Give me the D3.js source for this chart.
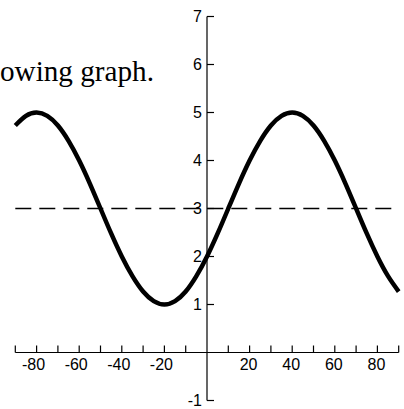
<!DOCTYPE html>
<html><head><meta charset="utf-8">
<script src="https://cdn.jsdelivr.net/npm/d3@7"></script>
<style>html,body{margin:0;padding:0;background:#fff;overflow:hidden}</style>
</head><body>
<svg id="c" width="404" height="409"></svg>
<script>
const xs = [-90,-85,-80,-75,-70,-65,-60,-55,-50,-45,-40,-35,-30,-25,-20,-15,-10,-5,0,5,10,15,20,25,30,35,40,45,50,55,60,65,70,75,80,85,90];
const ys = [4.73,4.93,5.0,4.93,4.73,4.41,4.0,3.52,3.0,2.48,2.0,1.59,1.27,1.07,1.0,1.07,1.27,1.59,2.0,2.48,3.0,3.52,4.0,4.41,4.73,4.93,5.0,4.93,4.73,4.41,4.0,3.52,3.0,2.48,2.0,1.59,1.27];
const xTickValues = [-90,-80,-70,-60,-50,-40,-30,-20,-10,10,20,30,40,50,60,70,80,90];
const xTickLabels = [-80,-60,-40,-20,20,40,60,80];
const yTickValues = [-1,1,2,3,4,5,6,7];
const midline = [3];
const caption = "owing graph.";

const svg = d3.select("#c");
const x = d3.scaleLinear().domain([-90,90]).range([15.3,398.7]);
const y = d3.scaleLinear().domain([-1,7]).range([400.5,16.5]);

// caption text
svg.append("text").attr("x",0).attr("y",81).attr("text-anchor","start")
  .attr("font-family","'Liberation Serif', 'Times New Roman', serif").attr("font-size",29)
  .attr("textLength",154).attr("lengthAdjust","spacingAndGlyphs")
  .attr("fill","#000").text(caption);

// midline dashed
svg.append("line").attr("x1",x(-90)).attr("x2",x(90)).attr("y1",y(midline[0])).attr("y2",y(midline[0]))
  .attr("stroke","#000").attr("stroke-width",1.5).attr("stroke-dasharray","16,8");

const g = svg.append("g").attr("stroke","#000").attr("stroke-width",1.2).attr("fill","none");
// x axis
g.append("line").attr("x1",x(-90)).attr("x2",x(90)).attr("y1",y(0)).attr("y2",y(0));
xTickValues.forEach(v=>{
  g.append("line").attr("x1",x(v)).attr("x2",x(v)).attr("y1",y(0)).attr("y2",y(0)-7);
});
// y axis
g.append("line").attr("x1",x(0)).attr("x2",x(0)).attr("y1",y(-1)).attr("y2",y(7));
yTickValues.forEach(v=>{
  g.append("line").attr("x1",x(0)).attr("x2",x(0)+7).attr("y1",y(v)).attr("y2",y(v));
});

const font = "'Liberation Sans Narrow', 'Liberation Sans', Arial, sans-serif";
svg.selectAll("text.xl").data(xTickLabels).join("text").attr("class","xl")
  .attr("x",d=>x(d)+(d<0?-3:-1)).attr("y",y(0)+17).attr("text-anchor","middle")
  .attr("font-family",font).attr("font-size",16).attr("fill","#000").text(d=>d);
svg.selectAll("text.yl").data(yTickValues).join("text").attr("class","yl")
  .attr("x",x(0)-5).attr("y",d=>y(d)+5.5).attr("text-anchor","end")
  .attr("font-family",font).attr("font-size",16).attr("fill","#000").text(d=>d);

// curve
const pts = xs.map((v,i)=>[v,ys[i]]);
svg.append("path").datum(pts)
  .attr("d",d3.line().x(d=>x(d[0])).y(d=>y(d[1])).curve(d3.curveNatural))
  .attr("fill","none").attr("stroke","#000").attr("stroke-width",4.5).attr("stroke-linecap","butt");
</script>
</body></html>
